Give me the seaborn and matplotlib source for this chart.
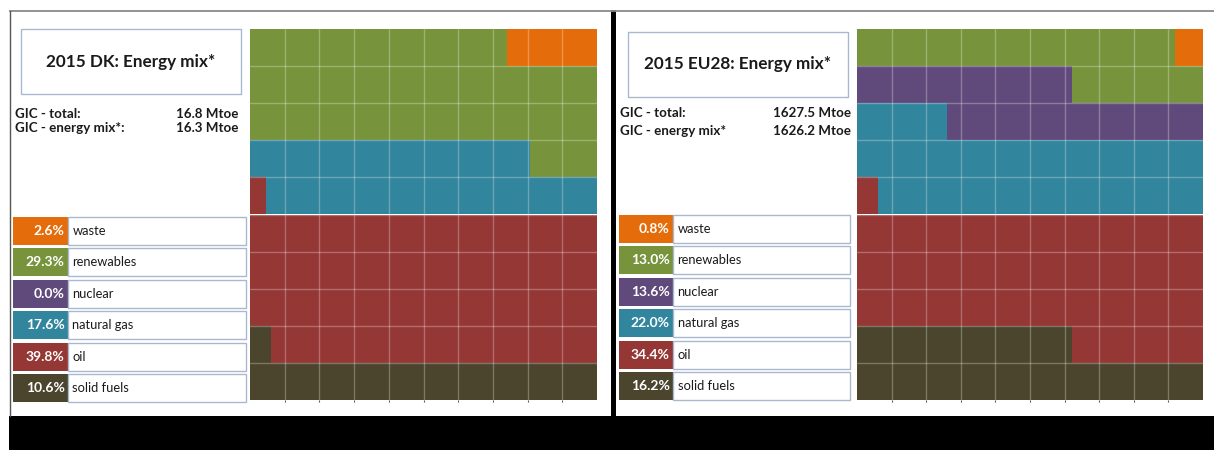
import matplotlib
matplotlib.use("Agg")
import matplotlib.pyplot as plt
from matplotlib.patches import Rectangle
import numpy as np
import pandas as pd
import seaborn as sns

# ---------------- data ----------------
categories = ["waste", "renewables", "nuclear", "natural gas", "oil", "solid fuels"]
dk_share = [2.6, 29.3, 0.0, 17.6, 39.8, 10.6]
eu_share = [0.8, 13.0, 13.6, 22.0, 34.4, 16.2]
colors = ["#E46C0A", "#77933C", "#604A7B", "#31859C", "#953735", "#4A452C"]

dk_title = "2015 DK: Energy mix*"
eu_title = "2015 EU28: Energy mix*"
dk_gic_labels = ["GIC - total:", "GIC - energy mix*:"]
dk_gic_values = ["16.8 Mtoe", "16.3 Mtoe"]
eu_gic_labels = ["GIC - total:", "GIC - energy mix*"]
eu_gic_values = ["1627.5 Mtoe", "1626.2 Mtoe"]

sns.set_theme(style="white")
plt.rcParams["font.family"] = ["Lato", "DejaVu Sans"]

W, H = 1214, 450
fig = plt.figure(figsize=(W / 100, H / 100), dpi=100)
fig.patch.set_facecolor("white")

# overlay axes in pixel coordinates for frames / legend boxes
ov = fig.add_axes([0, 0, 1, 1], zorder=0)
ov.set_xlim(0, W)
ov.set_ylim(H, 0)
ov.axis("off")

# frame lines
ov.plot([9, W], [10.5, 10.5], color="#8a8a8a", lw=1.3, solid_capstyle="butt")
ov.plot([9.5, 9.5], [10.5, 416], color="#555555", lw=1.0)
ov.add_patch(Rectangle((9, 416), W - 9, H - 416, facecolor="black", edgecolor="none"))
ov.add_patch(Rectangle((611, 10), 5, 406, facecolor="black", edgecolor="none"))

ROWS = list(range(9, -1, -1))  # top to bottom


def waffle(ax, shares):
    # fill from the bottom (last category) upward, left to right
    rev = shares[::-1]
    rev_colors = colors[::-1]
    total = sum(rev)
    cum = np.cumsum(rev) / total * 100.0
    # draw largest cumulative first so smaller ones overlay
    for i in range(len(rev) - 1, -1, -1):
        lengths = [float(np.clip(cum[i] - 10 * r, 0, 10)) for r in ROWS]
        df = pd.DataFrame({"row": [str(r) for r in ROWS], "len": lengths})
        sns.barplot(data=df, x="len", y="row", order=[str(r) for r in ROWS],
                    orient="h", color=rev_colors[i], saturation=1, width=1.0,
                    linewidth=0, errorbar=None, ax=ax)
    ax.set_xlim(0, 10)
    ax.set_ylim(9.5, -0.5)
    for k in range(1, 10):
        ax.axvline(k, color="white", alpha=0.28, lw=1.0)
    for k in range(9):
        ax.axhline(k + 0.5, color="white", alpha=0.28, lw=1.0)
    for s in ax.spines.values():
        s.set_visible(False)
    ax.set_xlabel("")
    ax.set_ylabel("")
    ax.set_yticks([])
    ax.set_xticks(range(1, 10))
    ax.set_xticklabels([])
    ax.tick_params(axis="x", length=1.5, width=0.8, color="#555555", bottom=True, pad=0)


def px_axes(left, top, right, bottom):
    return fig.add_axes([left / W, (H - bottom) / H, (right - left) / W, (bottom - top) / H], zorder=2)


ax1 = px_axes(250, 29, 597, 400)
waffle(ax1, dk_share)
ax2 = px_axes(857, 29, 1203, 400)
waffle(ax2, eu_share)

box_edge = "#a9b8cc"
text_col = "#1a1a1a"


def panel(title_box, title, gic_x, gic_right, gic_y, gic_labels, gic_values,
          leg_x0, leg_xm, leg_x1, leg_top, shares):
    l, t, r, b = title_box
    ov.add_patch(Rectangle((l, t), r - l, b - t, facecolor="white", edgecolor=box_edge, lw=1.0))
    ov.text((l + r) / 2, (t + b) / 2, title, ha="center", va="center",
            fontsize=12.3, fontweight="bold", color=text_col)
    for lab, val, y in zip(gic_labels, gic_values, gic_y):
        ov.text(gic_x, y, lab, ha="left", va="center", fontsize=9.6, fontweight="bold", color=text_col)
        ov.text(gic_right, y, val, ha="right", va="center", fontsize=9.6, fontweight="bold", color=text_col)
    pitch = 31.4
    hgt = 28
    for i, (cat, sh, col) in enumerate(zip(categories, shares, colors)):
        yt = leg_top + i * pitch
        ov.add_patch(Rectangle((leg_x0, yt), leg_xm - leg_x0, hgt, facecolor=col, edgecolor="none"))
        ov.add_patch(Rectangle((leg_xm, yt), leg_x1 - leg_xm, hgt, facecolor="white",
                               edgecolor=box_edge, lw=1.0))
        ov.text(leg_xm - 3, yt + hgt / 2, f"{sh:.1f}%", ha="right", va="center",
                fontsize=10, fontweight="bold", color="white")
        ov.text(leg_xm + 5, yt + hgt / 2, cat, ha="left", va="center",
                fontsize=9.3, color=text_col)


panel((21, 29, 241, 94), dk_title, 15, 238, [114, 128], dk_gic_labels, dk_gic_values,
      13, 67.5, 246, 217, dk_share)
panel((628, 32, 848, 97), eu_title, 620, 851, [113, 131], eu_gic_labels, eu_gic_values,
      619, 672.5, 850, 215, eu_share)

fig.savefig("out.png", dpi=100, facecolor="white")
